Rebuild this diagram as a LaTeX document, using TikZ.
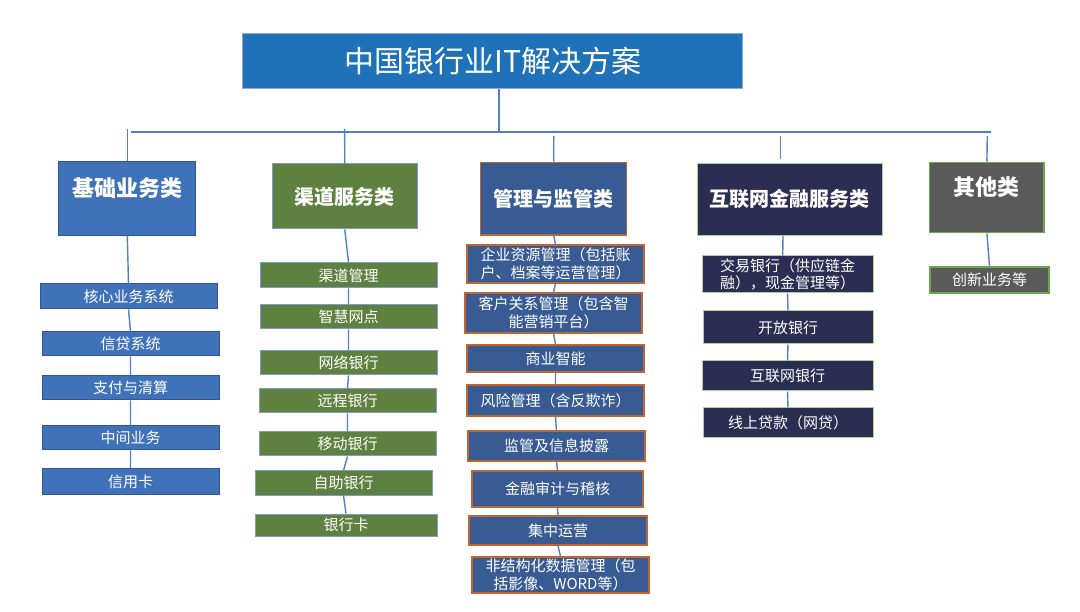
\documentclass[tikz,border=0pt]{standalone}
\usepackage{fontspec}
\setmainfont{Noto Sans CJK SC}
\usetikzlibrary{calc}
\definecolor{lineblue}{HTML}{4F80C9}
\definecolor{titleblue}{HTML}{1F71B8}
\definecolor{titleedge}{HTML}{8EAADB}
\definecolor{bluefill}{HTML}{4072B9}
\definecolor{blueedge}{HTML}{2F5597}
\definecolor{greenfill}{HTML}{5E8140}
\definecolor{greenedge}{HTML}{7D9BCB}
\definecolor{mgmtfill}{HTML}{385B94}
\definecolor{orangeedge}{HTML}{C0652F}
\definecolor{navyfill}{HTML}{2C2D53}
\definecolor{lgreenedge}{HTML}{A9D18E}
\definecolor{greyfill}{HTML}{5A5A5A}
\definecolor{gedge}{HTML}{6AA84F}
\begin{document}
\begin{tikzpicture}[x=1pt,y=-1pt,
  box/.style={draw, inner sep=0pt, text=white, align=center, line width=1pt},
  itemfont/.style={font=\fontsize{15}{17.5}\selectfont},
  catfont/.style={font=\fontsize{20}{24}\selectfont\bfseries},
  catbig/.style={font=\fontsize{22}{26}\selectfont\bfseries},
  bluebox/.style={box, fill=bluefill, draw=blueedge, itemfont},
  greenbox/.style={box, fill=greenfill, draw=greenedge, itemfont},
  mgmtbox/.style={box, fill=mgmtfill, draw=orangeedge, line width=1.3pt, itemfont},
  navybox/.style={box, fill=navyfill, draw=lgreenedge, itemfont},
  greybox/.style={box, fill=greyfill, draw=gedge, line width=1.3pt, itemfont},
  conn/.style={draw=lineblue, line width=1.4pt}]
\fill[white] (0,0) rectangle (1080,612);
\useasboundingbox (0,0) rectangle (1080,612);

% title
\node[box, fill=titleblue, draw=titleedge, minimum width=500pt, minimum height=55pt,
      font=\fontsize{30}{34}\selectfont] (t) at (492.7,61.5) {中国银行业IT解决方案};

% categories
\node[box, fill=bluefill, draw=blueedge, minimum width=137pt, minimum height=73.7pt,
      label={[catbig, text=white, yshift=10.5pt]center:基础业务类}] (c1) at (127.3,198.2) {};
\node[box, fill=greenfill, draw=greenedge, minimum width=145pt, minimum height=65pt, catfont]
      (c2) at (344.8,196.5) {渠道服务类};
\node[box, fill=mgmtfill, draw=orangeedge, line width=1.3pt, minimum width=146pt, minimum height=72.7pt, catfont]
      (c3) at (553.7,198.7) {管理与监管类};
\node[box, fill=navyfill, draw=lgreenedge, minimum width=185.3pt, minimum height=72pt, catfont]
      (c4) at (789.7,199.3) {互联网金融服务类};
\node[box, fill=greyfill, draw=gedge, line width=1.3pt, minimum width=114.3pt, minimum height=70.4pt,
      label={[catbig, text=white, yshift=10.8pt]center:其他类}] (c5) at (986.9,197.5) {};

% bus
\coordinate (bl) at (130.7,132);
\coordinate (br) at (990.7,132);
\coordinate (tb) at (499,132);
\coordinate (d1) at (127.3,129);
\coordinate (d2) at (344.6,129);
\coordinate (d3) at (553.8,136);
\coordinate (d4) at (780.3,136);
\coordinate (d5) at (987.3,136);
\draw[conn] (bl) -- (br);
\draw[conn] (t.south -| tb) -- (tb);
\draw[conn] (d1) -- (c1.north);
\draw[conn] (d2) -- (c2.north);
\draw[conn] (d3) -- (c3.north);
\draw[conn, shorten >=4pt] (d4) -- (d4 |- c4.north);
\draw[conn] (d5) -- (c5.north);

% column 1
\node[bluebox, minimum width=177pt, minimum height=25pt] (i11) at (128.5,296.5) {核心业务系统};
\node[bluebox, minimum width=177pt, minimum height=24pt] (i12) at (130.5,344) {信贷系统};
\node[bluebox, minimum width=177pt, minimum height=24pt] (i13) at (130.5,388) {支付与清算};
\node[bluebox, minimum width=177pt, minimum height=24pt] (i14) at (130.5,438) {中间业务};
\node[bluebox, minimum width=177pt, minimum height=25pt] (i15) at (130.5,481.5) {信用卡};
\draw[conn] (c1.south) -- (i11.north) (i11.south) -- (i12.north) (i12.south) -- (i13.north)
            (i13.south) -- (i14.north) (i14.south) -- (i15.north);

% column 2
\node[greenbox, minimum width=177pt, minimum height=25pt] (i21) at (348.5,275.5) {渠道管理};
\node[greenbox, minimum width=177pt, minimum height=24pt] (i22) at (348.5,317) {智慧网点};
\node[greenbox, minimum width=177pt, minimum height=24pt] (i23) at (348.5,363) {网络银行};
\node[greenbox, minimum width=177pt, minimum height=24pt] (i24) at (347.5,401) {远程银行};
\node[greenbox, minimum width=177pt, minimum height=24pt] (i25) at (347.5,444) {移动银行};
\node[greenbox, minimum width=177pt, minimum height=24pt] (i26) at (343.5,483) {自助银行};
\node[greenbox, minimum width=182pt, minimum height=22pt] (i27) at (346,525) {银行卡};
\draw[conn] (c2.south) -- (i21.north) (i21.south) -- (i22.north) (i22.south) -- (i23.north)
            (i23.south) -- (i24.north) (i24.south) -- (i25.north) (i25.south) -- (i26.north)
            (i26.south) -- (i27.north);

% column 3
\node[mgmtbox, minimum width=177pt, minimum height=38pt] (i31) at (555.5,264) {企业资源管理（包括账\\户、档案等运营管理）};
\node[mgmtbox, minimum width=177pt, minimum height=40pt] (i32) at (553.5,313) {客户关系管理（包含智\\能营销平台）};
\node[mgmtbox, minimum width=177pt, minimum height=27pt] (i33) at (555.5,358.5) {商业智能};
\node[mgmtbox, minimum width=177pt, minimum height=31pt] (i34) at (555.5,400.5) {风险管理（含反欺诈）};
\node[mgmtbox, minimum width=177pt, minimum height=30pt] (i35) at (556.5,446) {监管及信息披露};
\node[mgmtbox, minimum width=171pt, minimum height=36pt] (i36) at (557.5,489) {金融审计与稽核};
\node[mgmtbox, minimum width=178pt, minimum height=29pt] (i37) at (558,530.5) {集中运营};
\node[mgmtbox, minimum width=177pt, minimum height=36pt] (i38) at (560.5,575) {非结构化数据管理（包\\括影像、WORD等）};
\draw[conn] (c3.south) -- (i31.north) (i31.south) -- (i32.north) (i32.south) -- (i33.north)
            (i33.south) -- (i34.north) (i34.south) -- (i35.north) (i35.south) -- (i36.north)
            (i36.south) -- (i37.north) (i37.south) -- (i38.north);

% column 4
\node[navybox, minimum width=171pt, minimum height=37pt] (i41) at (787.5,274.5) {交易银行（供应链金\\融），现金管理等）};
\node[navybox, minimum width=170pt, minimum height=33pt] (i42) at (788,327.5) {开放银行};
\node[navybox, minimum width=171pt, minimum height=30pt] (i43) at (787.5,376) {互联网银行};
\node[navybox, minimum width=170pt, minimum height=30pt] (i44) at (788,423) {线上贷款（网贷）};
\draw[conn] ([xshift=-6.7pt]c4.south) -- ([xshift=-4.8pt]i41.north);
\draw[conn] (i41.south) -- (i42.north) (i42.south) -- (i43.north) (i43.south) -- (i44.north);

% column 5
\node[greybox, minimum width=119pt, minimum height=26pt] (i51) at (989.5,280) {创新业务等};
\draw[conn] (c5.south) -- (i51.north);
\end{tikzpicture}
\end{document}
